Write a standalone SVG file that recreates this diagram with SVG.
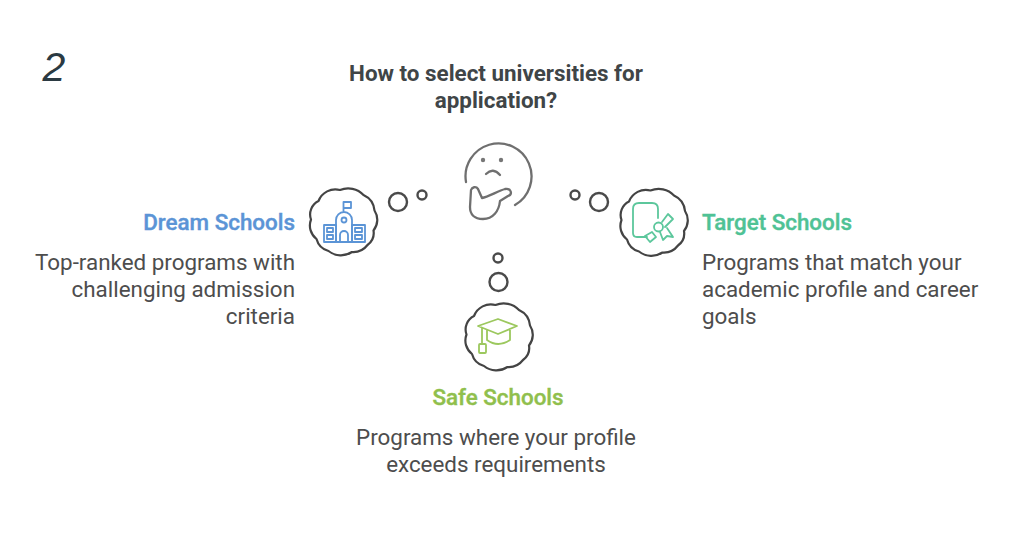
<svg xmlns="http://www.w3.org/2000/svg" width="1024" height="538" viewBox="0 0 1024 538">
<style>
text{font-family:Roboto,"Liberation Sans",sans-serif}
.t{font-size:22.4px;font-weight:500;stroke-width:.4px}
.b{font-size:22.4px;fill:#4d4d4d}
.h{font-size:22.4px;font-weight:700;fill:#404547}
.c{fill:none;stroke:#444;stroke-width:2.2;stroke-linejoin:round}
.o{fill:none;stroke:#4a4a4a;stroke-width:2.4}
.f{fill:none;stroke:#6f6f6f;stroke-width:2.3;stroke-linecap:round;stroke-linejoin:round}
.i{fill:none;stroke-width:1.8;stroke-linejoin:round;stroke-linecap:round}
</style>
<defs>
<path id="cloud" d="M-24.500 -20.500A18 18 0 0 1 -3 -31.500A21 21 0 0 1 20.500 -26.500A19 19 0 0 1 31.500 -11A17 17 0 0 1 30.500 9A15 15 0 0 1 24.500 23.500A18 18 0 0 1 9 30.500A20 20 0 0 1 -14.500 29.500A17 17 0 0 1 -26.500 17.500A17 17 0 0 1 -32 -2A15 15 0 0 1 -24.500 -20.500Z"/>
</defs>
<rect width="1024" height="538" fill="#fff"/>
<text x="42.500" y="81" font-size="41" font-style="italic" fill="#2b3a42" style="font-family:'Liberation Sans',sans-serif">2</text>
<g id="title">
<text class="h" x="496" y="81" text-anchor="middle">How to select universities for</text>
<text class="h" x="496" y="108" text-anchor="middle">application?</text>
</g>
<g id="connectors">
<circle class="o" cx="398" cy="202" r="9"/>
<circle class="o" cx="422" cy="195" r="4.500"/>
<circle class="o" cx="575" cy="195" r="4.500"/>
<circle class="o" cx="599" cy="202" r="9"/>
<circle class="o" cx="498" cy="258" r="4.500"/>
<circle class="o" cx="498.500" cy="282" r="9"/>
</g>
<g id="thinker">
<path class="f" d="M466 182A33 33 0 1 1 515 205"/>
<circle cx="483" cy="160" r="2.200" fill="#777"/>
<circle cx="501" cy="160" r="2.200" fill="#777"/>
<path class="f" d="M486 174Q493 167 500 175"/>
<path class="f" d="M471 190C472 187 476 186 478 189L482 198C488 197 498 191 505 189C511 188 513 194 508 196L500 201C499 211 493 219 483 219C474 219 470 214 470 207Z"/>
</g>
<g id="dream">
<use href="#cloud" class="c" x="343" y="221.500"/>
<g class="i" stroke="#5b94d6">
<rect x="324" y="225" width="12" height="17"/><rect x="352" y="225" width="13" height="17"/>
<path d="M336 242V220A8 8 0 0 1 352 220V242M336 242H352M343.500 212V202H351V208H343.500"/>
<path d="M340 242V235A4 4 0 0 1 348 235V242"/>
<circle cx="344" cy="220" r="2.500"/>
<rect x="327" y="228" width="6" height="4"/><rect x="327" y="235" width="6" height="4"/>
<rect x="355" y="228" width="7" height="4"/><rect x="355" y="235" width="7" height="4"/>
</g>
<text class="t" x="295" y="230" text-anchor="end" fill="#5b94d6" stroke="#5b94d6">Dream Schools</text>
<text class="b" x="295" y="270" text-anchor="end">Top-ranked programs with</text>
<text class="b" x="295" y="297" text-anchor="end">challenging admission</text>
<text class="b" x="295" y="324" text-anchor="end">criteria</text>
</g>
<g id="target">
<use href="#cloud" class="c" x="653.500" y="222"/>
<g class="i" stroke="#5cc79c">
<path d="M658 218V209Q658 203 652 203H639Q633 203 633 209V233Q633 237 637 237H647"/>
<path d="M662 222L668 214L673 219L665 227M645 236L652 232L656 237L650 242Z"/>
<circle cx="658.500" cy="227" r="4.500"/>
<path d="M660 232L663 240L667 236L673 237L667 228"/>
</g>
<text class="t" x="702" y="230" fill="#4fc295" stroke="#4fc295">Target Schools</text>
<text class="b" x="702" y="270">Programs that match your</text>
<text class="b" x="702" y="297">academic profile and career</text>
<text class="b" x="702" y="324">goals</text>
</g>
<g id="safe">
<use href="#cloud" class="c" x="498.500" y="336.500"/>
<g class="i" stroke="#9cc85e">
<path d="M478 326L498 319L517 326L498 334ZM487 330V340Q498 348 510 340V330M482 328V344"/>
<rect x="479" y="344" width="7" height="9" rx="1"/>
</g>
<text class="t" x="498" y="405" text-anchor="middle" fill="#90bf4d" stroke="#90bf4d">Safe Schools</text>
<text class="b" x="496" y="445" text-anchor="middle">Programs where your profile</text>
<text class="b" x="496" y="472" text-anchor="middle">exceeds requirements</text>
</g>
</svg>
